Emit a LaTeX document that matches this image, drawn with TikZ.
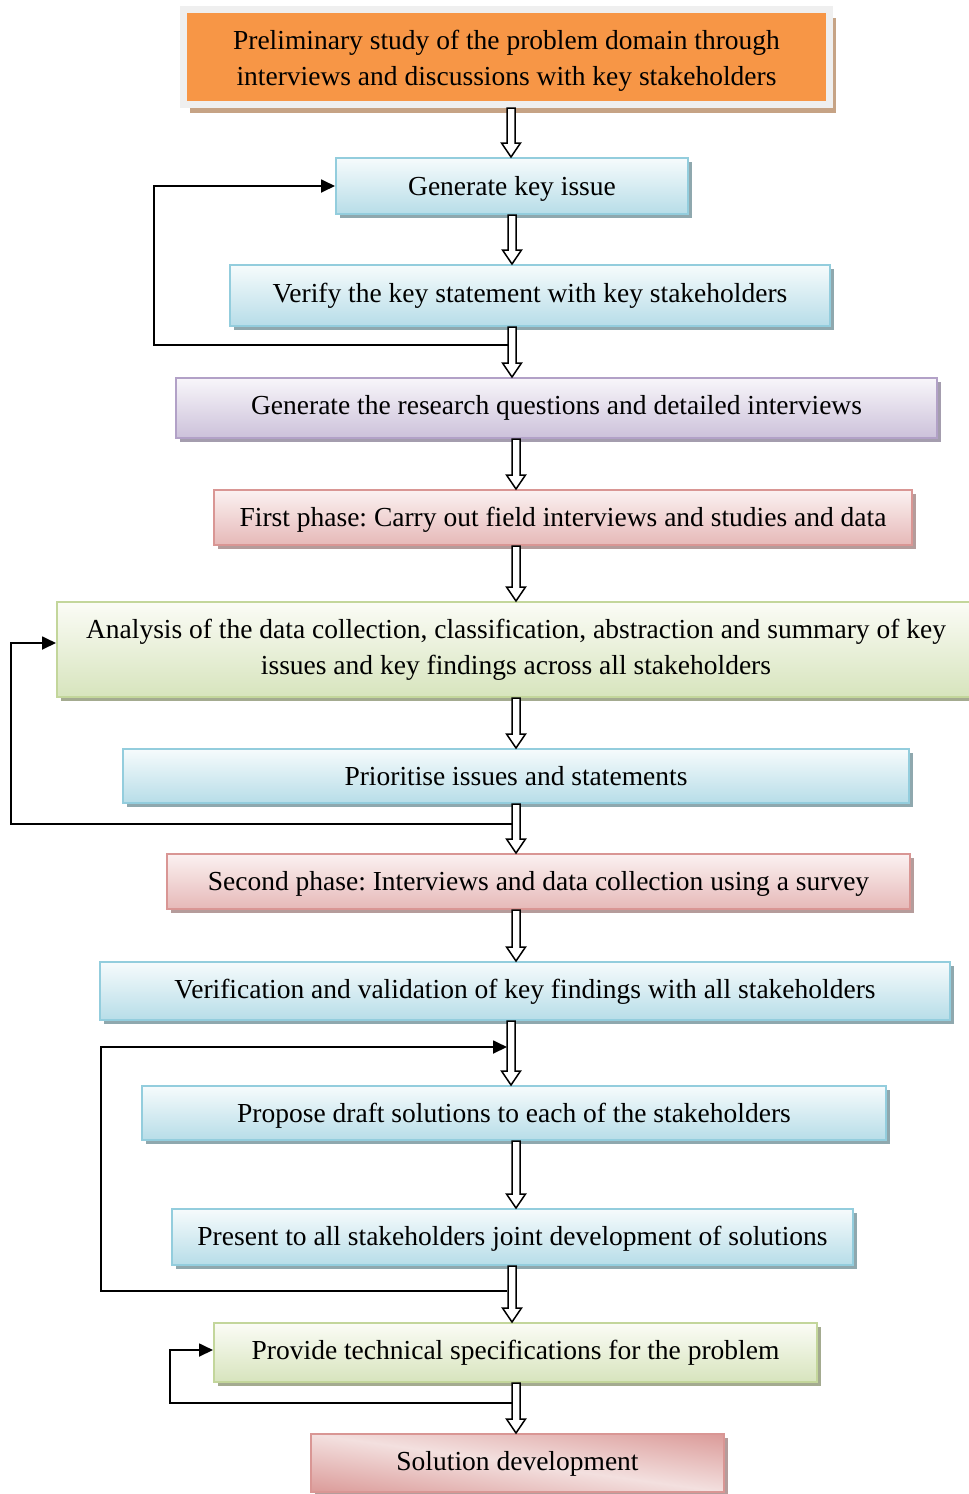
\documentclass[tikz,border=0pt]{standalone}
\usepackage{fontspec}
\setmainfont{Liberation Serif}
\usetikzlibrary{shadows,arrows.meta,calc}
\definecolor{orfill}{HTML}{F79646}
\definecolor{orframe}{HTML}{EFEFEF}
\definecolor{orshad}{HTML}{C6A385}
\definecolor{bluetop}{HTML}{F6FBFC}
\definecolor{bluebot}{HTML}{B7DDE8}
\definecolor{blueline}{HTML}{93CDDD}
\definecolor{blueshad}{HTML}{8FA8AE}
\definecolor{purtop}{HTML}{F8F6FA}
\definecolor{purbot}{HTML}{CCC1DA}
\definecolor{purline}{HTML}{B2A1C7}
\definecolor{purshad}{HTML}{A49DAE}
\definecolor{redtop}{HTML}{FBF1F1}
\definecolor{redbot}{HTML}{E6B9B8}
\definecolor{redline}{HTML}{D99694}
\definecolor{redshad}{HTML}{B59C9B}
\definecolor{grntop}{HTML}{FBFCF6}
\definecolor{grnbot}{HTML}{D7E4BD}
\definecolor{grnline}{HTML}{C3D69B}
\definecolor{grnshad}{HTML}{A4AB90}
\definecolor{solred}{HTML}{D99593}
\definecolor{solpale}{HTML}{F3E0DF}
\pgfdeclareverticalshading{solvert}{100bp}{color(0bp)=(solred); color(25bp)=(solred); color(50bp)=(solpale); color(75bp)=(solred); color(100bp)=(solred)}
\tikzset{
  box/.style={rectangle, inner sep=0pt, align=center,
    font=\fontsize{27.5}{36}\selectfont\frenchspacing, line width=2pt},
  dn/.style={text height=19pt, text depth=#1},
  bluebox/.style={box, draw=blueline, top color=bluetop, bottom color=bluebot,
    drop shadow={shadow xshift=4pt, shadow yshift=-4pt, fill=blueshad, opacity=1}},
  purbox/.style={box, draw=purline, top color=purtop, bottom color=purbot,
    drop shadow={shadow xshift=4pt, shadow yshift=-4pt, fill=purshad, opacity=1}},
  redbox/.style={box, draw=redline, top color=redtop, bottom color=redbot,
    drop shadow={shadow xshift=4pt, shadow yshift=-4pt, fill=redshad, opacity=1}},
  grnbox/.style={box, draw=grnline, top color=grntop, bottom color=grnbot,
    drop shadow={shadow xshift=4pt, shadow yshift=-4pt, fill=grnshad, opacity=1}},
  solbox/.style={box, draw=redline, fill=solred,
    path picture={
      \begin{scope}[transform canvas={rotate around={-8:(path picture bounding box.center)}}]
        \shade[shading=solvert] ([xshift=-300pt,yshift=-62pt]path picture bounding box.center)
          rectangle ([xshift=300pt,yshift=62pt]path picture bounding box.center);
      \end{scope}},
    drop shadow={shadow xshift=4pt, shadow yshift=-4pt, fill=redshad, opacity=1}},
  orbox/.style={box, draw=orframe, line width=7pt, fill=orfill,
    drop shadow={shadow xshift=6pt, shadow yshift=-8pt, fill=orshad, opacity=1}},
  blk/.style={draw=black, fill=white, line width=1.5pt, line join=miter},
  fb/.style={line width=1.8pt, -{Triangle[length=14pt,width=13pt]}},
}
\newcommand\blockarrow[3]{%
  \draw[blk] let \p1=(#1), \p2=(#2) in
   (#3pt-4pt,\y1) -- (#3pt+4pt,\y1) -- (#3pt+4pt,\y2+14pt) -- (#3pt+9.5pt,\y2+14pt)
   -- (#3pt,\y2) -- (#3pt-9.5pt,\y2+14pt) -- (#3pt-4pt,\y2+14pt) -- cycle;}
\begin{document}
\begin{tikzpicture}[x=1pt,y=-1pt]
\useasboundingbox (0,0) rectangle (969,1494);
% boxes
\node[orbox, minimum width=646pt, minimum height=95pt, text height=62pt] (b1) at (506.5,57)
  {Preliminary study of the problem domain through\\interviews and discussions with key stakeholders};
\node[bluebox, dn=0pt, minimum width=352pt, minimum height=56pt] (b2) at (512,186) {Generate key issue};
\node[bluebox, minimum width=600pt, minimum height=61pt] (b3) at (530,295.5) {Verify the key statement with key stakeholders};
\node[purbox, minimum width=761pt, minimum height=60pt] (b4) at (556.5,408) {Generate the research questions and detailed interviews};
\node[redbox, dn=2pt, minimum width=698pt, minimum height=55pt] (b5) at (563,517.5) {First phase: Carry out field interviews and studies and data};
\node[grnbox, minimum width=918pt, minimum height=95pt] (b6) at (516,649.5)
  {Analysis of the data collection, classification, abstraction and summary of key\\issues and key findings across all stakeholders};
\node[bluebox, minimum width=786pt, minimum height=54pt] (b7) at (516,776) {Prioritise issues and statements};
\node[redbox, dn=2pt, minimum width=743pt, minimum height=55pt] (b8) at (538.5,881.5) {Second phase: Interviews and data collection using a survey};
\node[bluebox, dn=4pt, minimum width=850pt, minimum height=58pt] (b9) at (525,991) {Verification and validation of key findings with all stakeholders};
\node[bluebox, dn=0pt, minimum width=744pt, minimum height=54pt] (b10) at (514,1113) {Propose draft solutions to each of the stakeholders};
\node[bluebox, dn=2pt, minimum width=681pt, minimum height=56pt] (b11) at (512.5,1237) {Present to all stakeholders joint development of solutions};
\node[grnbox, minimum width=603pt, minimum height=59pt] (b12) at (515.5,1352.5) {Provide technical specifications for the problem};
\node[solbox, dn=4pt, minimum width=413pt, minimum height=58pt] (b13) at (517.5,1463) {Solution development};
% feedback loops
\coordinate (l1s) at (508,345);
\coordinate (l2s) at (512,824);
\coordinate (l3s) at (507,1291);
\coordinate (l3e) at (507,1047);
\coordinate (l4s) at (512,1403);
\draw[fb] (l1s) -- (154,345) |- (b2.west);
\draw[fb] (l2s) -- (11,824) |- ([yshift=6.5pt]b6.west);
\draw[fb] (l3s) -- (101,1291) |- (l3e);
\draw[fb] (l4s) -- (170,1403) |- ([yshift=2.5pt]b12.west);
% block arrows
\blockarrow{b1.south}{b2.north}{511}
\blockarrow{b2.south}{b3.north}{512}
\blockarrow{b3.south}{b4.north}{512}
\blockarrow{b4.south}{b5.north}{516}
\blockarrow{b5.south}{b6.north}{516}
\blockarrow{b6.south}{b7.north}{516}
\blockarrow{b7.south}{b8.north}{516}
\blockarrow{b8.south}{b9.north}{516}
\blockarrow{b9.south}{b10.north}{511}
\blockarrow{b10.south}{b11.north}{516}
\blockarrow{b11.south}{b12.north}{512}
\blockarrow{b12.south}{b13.north}{516}
\end{tikzpicture}
\end{document}
